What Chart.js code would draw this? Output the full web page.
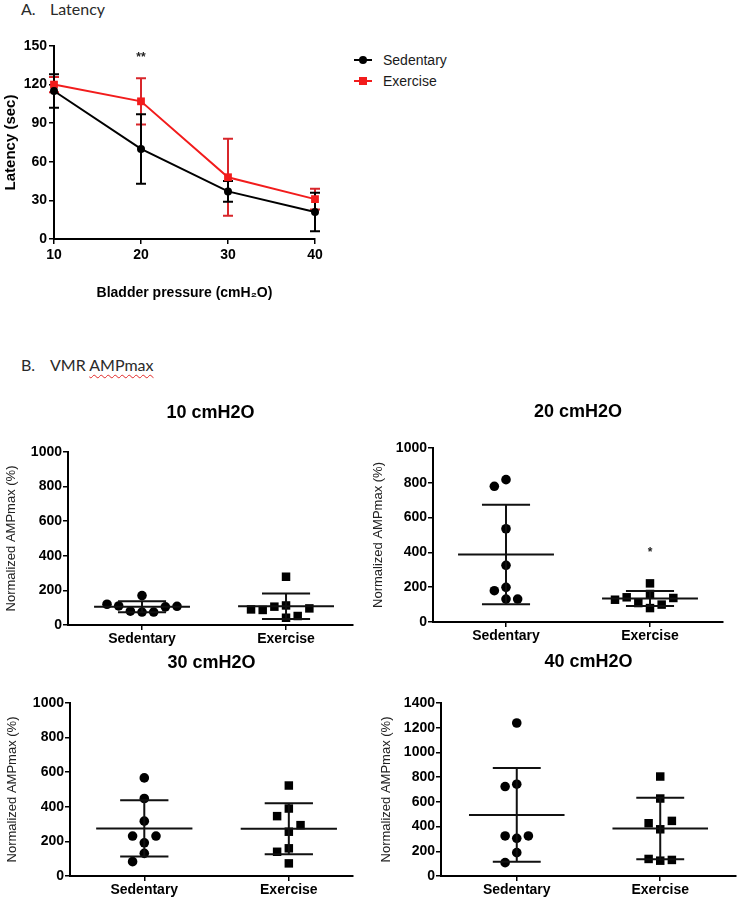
<!DOCTYPE html>
<html>
<head>
<meta charset="utf-8">
<script src="https://cdn.jsdelivr.net/npm/chart.js@4.4.1/dist/chart.umd.min.js"></script>
<style>
  html, body { margin:0; padding:0; background:#fff; }
  body { width:742px; height:900px; position:relative; overflow:hidden; }
  canvas { position:absolute; }
  .lab { position:absolute; font-family: Lato, "Open Sans", sans-serif; font-size:16px; line-height:18px; color:#2a2a2a; white-space:nowrap; }
  .wavy { text-decoration: underline wavy #e02828; text-decoration-thickness:1px; text-underline-offset:3px; }
  .leg { position:absolute; left:354px; height:18px; width:200px; }
  .leg .ln { position:absolute; left:0; top:8px; width:18px; height:2px; }
  .leg .mk { position:absolute; }
  .leg .tx { position:absolute; left:29px; top:0; font-family:"Liberation Sans", Arial, sans-serif; font-size:14px; line-height:18px; color:#1a1a1a; }
</style>
</head>
<body>
<div class="lab" style="left:21px;top:0px;">A.</div>
<div class="lab" style="left:50px;top:0px;">Latency</div>
<div class="lab" style="left:21px;top:356px;">B.</div>
<div class="lab" style="left:50px;top:356px;">VMR <span class="wavy">AMPmax</span></div>
<div id="legend"></div>

<canvas id="cTop" width="330" height="275" style="left:0px;top:30px;"></canvas>
<canvas id="c10" width="360" height="270" style="left:0px;top:380px;"></canvas>
<canvas id="c20" width="365" height="267" style="left:365px;top:380px;"></canvas>
<canvas id="c30" width="360" height="260" style="left:0px;top:640px;"></canvas>
<canvas id="c40" width="377" height="260" style="left:365px;top:640px;"></canvas>

<script>
// ---------- DATA ----------
const pressures = [10, 20, 30, 40];
const sedLatency = [115, 70, 37, 21];
const sedLatencySD = [13, 27, 8, 15];
const exLatency = [120, 107, 48, 31];
const exLatencySD = [6, 18, 30, 8];
const latencyTicks = [0, 30, 60, 90, 120, 150];
const pressureTicks = [10, 20, 30, 40];
const latencyMarks = [{ x: 20, y: 141, text: '**' }];

const groups = ['Sedentary', 'Exercise'];
const panelTitles = ['10 cmH2O', '20 cmH2O', '30 cmH2O', '40 cmH2O'];
const sed10 = [170, 75, 80, 75, 110, 105, 120, 108];
const ex10  = [279, 42, 113, 106, 52, 87, 96, 90];
const sed20 = [536, 326, 818, 780, 199, 180, 132, 132];
const ex20  = [222, 80, 161, 109, 100, 142, 138, 128];
const sed30 = [567, 448, 317, 192, 231, 231, 131, 83];
const ex30  = [523, 390, 346, 256, 294, 160, 140, 73];
const sed40 = [1238, 743, 724, 305, 324, 324, 189, 108];
const ex40  = [805, 627, 378, 427, 446, 124, 138, 130];
const ampTicks = [0, 200, 400, 600, 800, 1000];
const ampTicks40 = [0, 200, 400, 600, 800, 1000, 1200, 1400];
const amp20Marks = [{ x: 2, y: 400, text: '*' }];

// ---------- STYLE ----------
const FONT = "'Liberation Sans', Arial, 'DejaVu Sans', sans-serif";
Chart.defaults.font.family = FONT;
Chart.defaults.color = '#000';
const RED = '#f21c1c';
const SLOT = 0.081;        // horizontal spacing between dots (category units)
const COLLIDE = 0.058;     // vertical collision distance (fraction of axis range)
const MEAN_HALF = 0.333;   // half-width of mean line (category units)
const CAP_HALF = 0.167;    // half-width of SD caps

// arrange dots side by side when they would overlap (scatter dot plot)
function swarm(values, center, range) {
  const d = range * COLLIDE;
  const cands = [0];
  for (let k = 0.5; k <= 6; k += 0.5) cands.push(-k, k);
  const placed = [];
  return values.map(v => {
    for (const c of cands) {
      if (placed.every(p => Math.abs(p.c - c) >= 1 || Math.abs(p.v - v) >= d)) {
        placed.push({ c, v });
        return { x: center + c * SLOT, y: v };
      }
    }
    return { x: center, y: v };
  });
}

function meanSd(arr) {
  const m = arr.reduce((a, b) => a + b, 0) / arr.length;
  const s = Math.sqrt(arr.reduce((a, b) => a + (b - m) * (b - m), 0) / (arr.length - 1));
  return { m, s };
}

// error bars for the latency chart (drawn under the markers)
const errorBarPlugin = {
  id: 'errorBars',
  beforeDatasetsDraw(chart) {
    const { ctx, scales: { x, y } } = chart;
    const dss = chart.data.datasets;
    for (let i = dss.length - 1; i >= 0; i--) {
      const ds = dss[i];
      if (!ds.sd) continue;
      ctx.save();
      ctx.strokeStyle = ds.errColor;
      ctx.lineWidth = 2;
      ds.data.forEach((p, j) => {
        const px = x.getPixelForValue(p.x);
        const yt = y.getPixelForValue(p.y + ds.sd[j]);
        const yb = y.getPixelForValue(p.y - ds.sd[j]);
        ctx.beginPath();
        ctx.moveTo(px, yt); ctx.lineTo(px, yb);
        ctx.moveTo(px - 5, yt); ctx.lineTo(px + 5, yt);
        ctx.moveTo(px - 5, yb); ctx.lineTo(px + 5, yb);
        ctx.stroke();
      });
      ctx.restore();
    }
  }
};

// mean and SD lines of the dot plots
const meanSdPlugin = {
  id: 'meanSd',
  afterDatasetsDraw(chart) {
    const { ctx, scales: { x, y } } = chart;
    ctx.save();
    ctx.strokeStyle = '#111';
    ctx.lineWidth = 2;
    chart.data.datasets.forEach(ds => {
      const { m, s } = meanSd(ds.raw);
      const c = ds.center;
      const ym = y.getPixelForValue(m), yt = y.getPixelForValue(m + s), yb = y.getPixelForValue(m - s);
      ctx.beginPath();
      ctx.moveTo(x.getPixelForValue(c - MEAN_HALF), ym); ctx.lineTo(x.getPixelForValue(c + MEAN_HALF), ym);
      ctx.moveTo(x.getPixelForValue(c), yt); ctx.lineTo(x.getPixelForValue(c), yb);
      ctx.moveTo(x.getPixelForValue(c - CAP_HALF), yt); ctx.lineTo(x.getPixelForValue(c + CAP_HALF), yt);
      ctx.moveTo(x.getPixelForValue(c - CAP_HALF), yb); ctx.lineTo(x.getPixelForValue(c + CAP_HALF), yb);
      ctx.stroke();
    });
    ctx.restore();
  }
};

// significance marks
const marksPlugin = {
  id: 'marks',
  afterDraw(chart, args, opts) {
    const { ctx, scales: { x, y } } = chart;
    ctx.save();
    ctx.fillStyle = '#222';
    ctx.font = 'bold 12px ' + FONT;
    ctx.textAlign = 'center';
    ctx.textBaseline = 'middle';
    (opts.items || []).forEach(m => ctx.fillText(m.text, x.getPixelForValue(m.x), y.getPixelForValue(m.y)));
    ctx.restore();
  }
};

const plain = v => String(v);

// ---------- LATENCY CHART ----------
const latencyChart = new Chart(document.getElementById('cTop'), {
  type: 'line',
  data: {
    datasets: [
      { label: groups[0], data: pressures.map((p, i) => ({ x: p, y: sedLatency[i] })), sd: sedLatencySD,
        borderColor: '#000', backgroundColor: '#000', errColor: '#000', pointStyle: 'circle',
        pointRadius: 4, pointBorderWidth: 0, borderWidth: 2, tension: 0, clip: false },
      { label: groups[1], data: pressures.map((p, i) => ({ x: p, y: exLatency[i] })), sd: exLatencySD,
        borderColor: RED, backgroundColor: RED, errColor: '#d8262b', pointStyle: 'rect',
        pointRadius: 5.5, pointBorderWidth: 0, borderWidth: 2, tension: 0, clip: false }
    ]
  },
  options: {
    responsive: false, animation: false, events: [],
    layout: { padding: { left: 0, right: 15, top: 16, bottom: 0 } },
    plugins: { legend: { display: false }, tooltip: { enabled: false }, marks: { items: latencyMarks } },
    scales: {
      x: {
        type: 'linear', min: pressureTicks[0], max: pressureTicks[pressureTicks.length - 1],
        afterBuildTicks: s => { s.ticks = pressureTicks.map(v => ({ value: v })); },
        afterFit: s => { s.height = 66; },
        ticks: { callback: plain, font: { size: 14, weight: 'bold' }, color: '#000', padding: 3, maxRotation: 0 },
        grid: { drawOnChartArea: false, drawTicks: true, tickLength: 5, color: '#000', lineWidth: 1.5 },
        border: { color: '#000', width: 2 },
        title: { display: true, text: 'Bladder pressure (cmH₂O)', font: { size: 14, weight: 'bold' }, color: '#000', padding: { top: 0, bottom: 3.6 } }
      },
      y: {
        min: latencyTicks[0], max: latencyTicks[latencyTicks.length - 1],
        afterBuildTicks: s => { s.ticks = latencyTicks.map(v => ({ value: v })); },
        afterFit: s => { s.width = 54; },
        ticks: { callback: plain, font: { size: 14, weight: 'bold' }, color: '#000', padding: 2 },
        grid: { drawOnChartArea: false, drawTicks: true, tickLength: 5, color: '#000', lineWidth: 1.5 },
        border: { color: '#000', width: 2 },
        title: { display: true, text: 'Latency (sec)', font: { size: 15, weight: 'bold' }, color: '#000', padding: { top: 2, bottom: 0 } }
      }
    }
  },
  plugins: [errorBarPlugin, marksPlugin]
});

// legend built from the datasets
(function () {
  const host = document.getElementById('legend');
  latencyChart.data.datasets.forEach((ds, i) => {
    const row = document.createElement('div');
    row.className = 'leg';
    row.style.top = (51 + i * 21) + 'px';
    const ln = document.createElement('div'); ln.className = 'ln'; ln.style.background = ds.borderColor;
    const mk = document.createElement('div'); mk.className = 'mk'; mk.style.background = ds.backgroundColor;
    if (ds.pointStyle === 'circle') { mk.style.cssText += 'left:5px;top:5px;width:8px;height:8px;border-radius:50%;'; }
    else { mk.style.cssText += 'left:5px;top:5px;width:8px;height:8px;'; }
    const tx = document.createElement('div'); tx.className = 'tx'; tx.textContent = ds.label;
    row.appendChild(ln); row.appendChild(mk); row.appendChild(tx);
    host.appendChild(row);
  });
})();

// ---------- DOT PLOT PANELS ----------
function makePanel(id, title, sed, ex, ticks, lay, marks) {
  const yMax = ticks[ticks.length - 1];
  return new Chart(document.getElementById(id), {
    type: 'scatter',
    data: {
      datasets: [
        { label: groups[0], raw: sed, center: 1, data: swarm(sed, 1, yMax), pointStyle: 'circle', pointRadius: 4.8,
          backgroundColor: '#000', borderColor: '#000', pointBorderWidth: 0, clip: false },
        { label: groups[1], raw: ex, center: 2, data: swarm(ex, 2, yMax), pointStyle: 'rect', pointRadius: 6,
          backgroundColor: '#000', borderColor: '#000', pointBorderWidth: 0, clip: false }
      ]
    },
    options: {
      responsive: false, animation: false, events: [],
      layout: { padding: { left: 0, right: lay.pr, top: 0, bottom: 0 } },
      plugins: {
        legend: { display: false }, tooltip: { enabled: false }, marks: { items: marks || [] },
        title: { display: true, text: title, fullSize: false, color: '#000', font: { size: 18, weight: 'bold' },
                 padding: { top: lay.tt, bottom: lay.tb } }
      },
      scales: {
        x: {
          type: 'linear', min: lay.xmin, max: lay.xmax,
          afterBuildTicks: s => { s.ticks = groups.map((g, i) => ({ value: i + 1 })); },
          afterFit: s => { s.height = lay.xh; },
          ticks: { callback: v => groups[Math.round(v) - 1], font: { size: 14, weight: 'bold' }, color: '#000', padding: 1, maxRotation: 0, autoSkip: false },
          grid: { drawOnChartArea: false, drawTicks: true, tickLength: 5, color: '#000', lineWidth: 1.5 },
          border: { color: '#000', width: 2 }
        },
        y: {
          min: 0, max: yMax,
          afterBuildTicks: s => { s.ticks = ticks.map(v => ({ value: v })); },
          afterFit: s => { s.width = lay.yw; },
          ticks: { callback: plain, font: { size: 14, weight: 'bold' }, color: '#000', padding: 1 },
          grid: { drawOnChartArea: false, drawTicks: true, tickLength: 5, color: '#000', lineWidth: 1.5 },
          border: { color: '#000', width: 2 },
          title: { display: true, text: 'Normalized AMPmax (%)', font: { size: 13 }, color: '#222', padding: { top: lay.yt, bottom: 0 } }
        }
      }
    },
    plugins: [meanSdPlugin, marksPlugin]
  });
}

makePanel('c10', panelTitles[0], sed10, ex10, ampTicks,
  { pr: 7, xmin: 0.486, xmax: 2.465, tt: 22.2, tb: 28.2, xh: 25, yw: 68, yt: 3.2 });
makePanel('c20', panelTitles[1], sed20, ex20, ampTicks,
  { pr: 7, xmin: 0.493, xmax: 2.507, tt: 21.2, tb: 25.2, xh: 25, yw: 68, yt: 5.2 }, amp20Marks);
makePanel('c30', panelTitles[2], sed30, ex30, ampTicks,
  { pr: 7, xmin: 0.486, xmax: 2.444, tt: 12.2, tb: 29.2, xh: 24, yw: 70, yt: 4.7 });
makePanel('c40', panelTitles[3], sed40, ex40, ampTicks40,
  { pr: 4, xmin: 0.472, xmax: 2.528, tt: 11.2, tb: 30.2, xh: 24, yw: 76, yt: 13.2 });
</script>
</body>
</html>
